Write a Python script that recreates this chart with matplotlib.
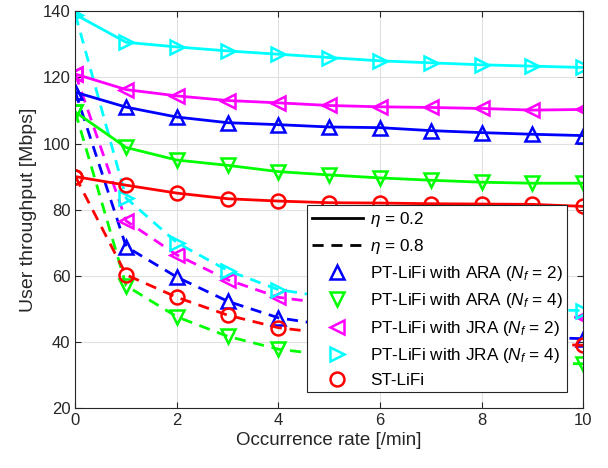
import matplotlib

matplotlib.use("Agg")

import matplotlib.pyplot as plt
from matplotlib.lines import Line2D

plt.rcParams["font.family"] = ["Liberation Sans", "DejaVu Sans"]
plt.rcParams["mathtext.fontset"] = "custom"
plt.rcParams["mathtext.it"] = "Liberation Sans:italic"
plt.rcParams["mathtext.rm"] = "Liberation Sans"

rate = [0, 1, 2, 3, 4, 5, 6, 7, 8, 9, 10]

# eta = 0.2 (solid)
ara2_low = [115.5, 111.0, 108.0, 106.3, 105.7, 105.0, 104.8, 103.9, 103.3, 102.8, 102.4]
ara4_low = [109.5, 98.8, 95.0, 93.4, 91.5, 90.5, 89.6, 88.9, 88.3, 88.0, 88.0]
jra2_low = [121.0, 116.3, 114.4, 113.0, 112.3, 111.5, 111.1, 110.9, 110.6, 110.1, 110.3]
jra4_low = [139.0, 130.6, 129.2, 128.0, 127.0, 126.0, 125.0, 124.4, 123.8, 123.4, 123.0]
st_low = [90.0, 87.4, 85.0, 83.3, 82.6, 82.1, 82.0, 81.8, 81.7, 81.6, 81.0]

# eta = 0.8 (dashed)
ara2_high = [115.5, 68.8, 59.6, 52.3, 47.3, 45.0, 43.6, 42.6, 41.9, 41.4, 41.0]
ara4_high = [109.5, 57.0, 47.6, 41.7, 37.8, 36.0, 35.0, 34.3, 33.9, 33.6, 33.4]
jra2_high = [121.0, 76.6, 66.3, 58.8, 53.5, 51.5, 50.0, 49.0, 48.3, 47.8, 47.4]
jra4_high = [139.0, 83.5, 70.0, 61.6, 55.8, 53.5, 52.0, 51.0, 50.3, 49.8, 49.5]
st_high = [90.0, 60.3, 53.5, 48.1, 44.3, 42.5, 41.3, 40.5, 39.9, 39.4, 39.0]

labels = [
    r"PT-LiFi with ARA ($N_f$ = 2)",
    r"PT-LiFi with ARA ($N_f$ = 4)",
    r"PT-LiFi with JRA ($N_f$ = 2)",
    r"PT-LiFi with JRA ($N_f$ = 4)",
    "ST-LiFi",
]
colors = ["#0000ff", "#00ff00", "#ff00ff", "#00ffff", "#ff0000"]
markers = ["^", "v", "<", ">", "o"]
low = [ara2_low, ara4_low, jra2_low, jra4_low, st_low]
high = [ara2_high, ara4_high, jra2_high, jra4_high, st_high]

DASH = (4, 2.8)
MS = 10

fig = plt.figure(figsize=(6.08, 4.68), dpi=100)
ax = fig.add_axes([0.124, 0.128, 0.835, 0.848])

for ys_hi, c, m in zip(high, colors, markers):
    ax.plot(rate, ys_hi, ls="--", color=c, lw=2, marker=m, ms=MS,
            mfc="none", mew=1.8, dashes=DASH)
for ys_lo, c, m in zip(low, colors, markers):
    ax.plot(rate, ys_lo, ls="-", color=c, lw=2, marker=m, ms=MS,
            mfc="none", mew=1.8)

ax.set_xlim(0, 10)
ax.set_ylim(20, 140)
ax.set_xticks(range(0, 11, 2))
ax.set_yticks(range(20, 141, 20))
ax.grid(True, color="#e0e0e0", lw=0.8)
ax.set_axisbelow(True)
ax.tick_params(direction="in", length=4, labelsize=12, colors="#262626",
               top=True, right=True)
for s in ax.spines.values():
    s.set_color("#262626")
    s.set_linewidth(0.8)
ax.set_xlabel("Occurrence rate [/min]", fontsize=13.5, color="#262626", labelpad=3)
ax.set_ylabel("User throughput [Mbps]", fontsize=14, color="#262626", labelpad=4)

handles = [
    Line2D([], [], color="black", lw=2, ls="-", label=r"$\eta$ = 0.2"),
    Line2D([], [], color="black", lw=2, ls="--", dashes=DASH, label=r"$\eta$ = 0.8"),
]
for lab, c, m in zip(labels, colors, markers):
    handles.append(Line2D([], [], ls="none", color=c, marker=m, ms=MS,
                          mfc="none", mew=1.8, label=lab))
leg = ax.legend(handles=handles, loc="lower right", bbox_to_anchor=(0.968, 0.04),
                fontsize=12.3, handlelength=3.0, handletextpad=0.4, labelspacing=0.48,
                borderpad=0.25, borderaxespad=0, fancybox=False, framealpha=1,
                edgecolor="#262626")
leg.get_frame().set_linewidth(0.8)

fig.savefig("out.png", dpi=100, facecolor="white")
